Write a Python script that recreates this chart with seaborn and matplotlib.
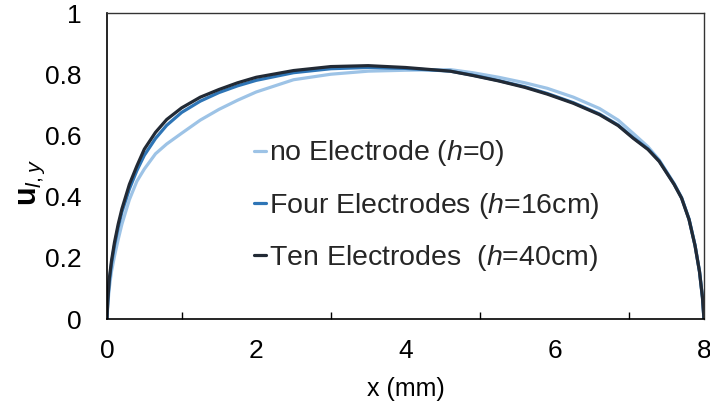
import numpy as np
import pandas as pd
import matplotlib
matplotlib.use("Agg")
import matplotlib.pyplot as plt
import seaborn as sns
from matplotlib.ticker import MultipleLocator

# Transverse position across the channel (mm)
x_mm = [0, 0.01, 0.03, 0.06, 0.1, 0.15, 0.2, 0.3, 0.4, 0.5, 0.65, 0.8, 1.0, 1.25,
        1.5, 1.75, 2.0, 2.5, 3.0, 3.5, 4.0, 4.6, 4.9, 5.25, 5.6, 5.9, 6.25, 6.6,
        6.85, 7.05, 7.25, 7.4, 7.6, 7.7, 7.8, 7.88, 7.94, 7.98, 8.0]

# Liquid velocity profiles u_{l,y}
u_no_electrode = [0, 0.045, 0.10, 0.155, 0.205, 0.26, 0.31, 0.39, 0.45, 0.49,
                  0.54, 0.572, 0.607, 0.65, 0.685, 0.715, 0.742, 0.782, 0.80, 0.81,
                  0.813, 0.815, 0.805, 0.79, 0.772, 0.754, 0.725, 0.688, 0.65,
                  0.607, 0.563, 0.52, 0.443, 0.397, 0.327, 0.242, 0.156, 0.07, 0]
u_four_electrodes = [0, 0.055, 0.12, 0.18, 0.24, 0.30, 0.35, 0.425, 0.485, 0.535,
                     0.59, 0.633, 0.675, 0.712, 0.74, 0.762, 0.78, 0.805, 0.818,
                     0.822, 0.819, 0.81, 0.797, 0.779, 0.759, 0.737, 0.707, 0.67,
                     0.634, 0.593, 0.556, 0.517, 0.441, 0.396, 0.326, 0.241, 0.155,
                     0.07, 0]
u_ten_electrodes = [0, 0.06, 0.13, 0.19, 0.25, 0.31, 0.36, 0.44, 0.50, 0.555, 0.61,
                    0.652, 0.69, 0.725, 0.75, 0.772, 0.79, 0.812, 0.825, 0.828,
                    0.822, 0.81, 0.796, 0.778, 0.757, 0.735, 0.705, 0.668, 0.632,
                    0.591, 0.554, 0.515, 0.44, 0.395, 0.325, 0.24, 0.155, 0.07, 0]

series_labels = [r"no Electrode ($\mathit{h}$=0)",
                 r"Four Electrodes ($\mathit{h}$=16cm)",
                 r"Ten Electrodes  ($\mathit{h}$=40cm)"]
series_colors = ["#9DC3E6", "#2E75B6", "#222A35"]

frames = []
for lab, vals in zip(series_labels, [u_no_electrode, u_four_electrodes, u_ten_electrodes]):
    frames.append(pd.DataFrame({"x": x_mm, "u": vals, "case": lab}))
df = pd.concat(frames, ignore_index=True)

sns.set_theme(style="white")
plt.rcParams["font.family"] = ["Liberation Sans", "DejaVu Sans"]
plt.rcParams["mathtext.fontset"] = "custom"
plt.rcParams["mathtext.rm"] = "Liberation Sans"
plt.rcParams["mathtext.it"] = "Liberation Sans:italic"
plt.rcParams["mathtext.bf"] = "Liberation Sans:bold"

fig = plt.figure(figsize=(7.1, 4.07), dpi=100)
ax = fig.add_axes([0.1507, 0.2162, 0.8408, 0.7518])

sns.lineplot(data=df, x="x", y="u", hue="case", hue_order=series_labels,
             palette=series_colors, linewidth=2.3, ax=ax, sort=False,
             estimator=None)
for ln in ax.get_lines():
    ln.set_solid_joinstyle("round")
    ln.set_solid_capstyle("round")

ax.set_xlim(0, 8)
ax.set_ylim(0, 1)
ax.set_xticks([0, 2, 4, 6, 8])
ax.set_xticklabels(["0", "2", "4", "6", "8"])
ax.xaxis.set_minor_locator(MultipleLocator(1))
ax.set_yticks([0, 0.2, 0.4, 0.6, 0.8, 1.0])
ax.set_yticklabels(["0", "0.2", "0.4", "0.6", "0.8", "1"])

ax.tick_params(axis="both", which="major", direction="inout", length=13,
               width=1, color="black", labelsize=19, labelcolor="black")
ax.tick_params(axis="x", which="major", pad=8)
ax.tick_params(axis="y", which="major", pad=12)
ax.tick_params(axis="x", which="minor", direction="in", length=5, width=1,
               color="black", bottom=True)

for side in ["left", "bottom"]:
    ax.spines[side].set_color("black")
    ax.spines[side].set_linewidth(1.2)
for side in ["top", "right"]:
    ax.spines[side].set_visible(True)
    ax.spines[side].set_color("#333333")
    ax.spines[side].set_linewidth(1.0)

ax.set_xlabel("x (mm)", fontsize=18, color="black")
ax.xaxis.set_label_coords(0.5, -0.19)
ax.set_ylabel(r"$\mathbf{u}_{\mathit{l,y}}$", fontsize=22, color="black")
ax.yaxis.set_label_coords(-0.1, 0.445)

leg = ax.legend(loc="upper left", bbox_to_anchor=(0.246, 0.59), frameon=False,
                fontsize=20.5, handlelength=0.42, handletextpad=0.1,
                labelspacing=0.78, borderaxespad=0, borderpad=0)
for line in leg.get_lines():
    line.set_linewidth(2.3)

fig.savefig("out.png", dpi=100)
